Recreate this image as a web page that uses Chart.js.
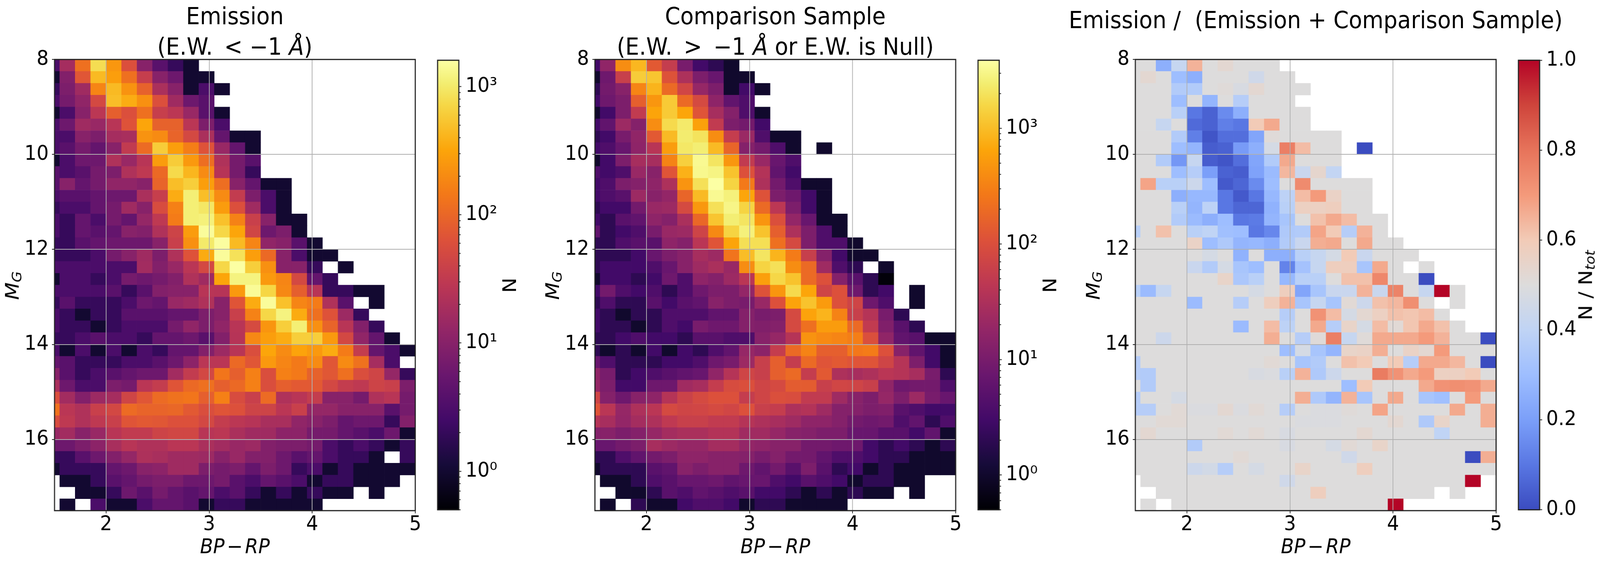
<!DOCTYPE html>
<html>
<head>
<meta charset="utf-8">
<script src="https://cdn.jsdelivr.net/npm/chart.js@4"></script>
<style>
  html, body { margin: 0; background: #fff; overflow: hidden; }
  body { font-family: "DejaVu Sans"; color: #000; }
  /* the window stops at 4096 wide, so the 4373 wide figure is fitted into it */
  #fig { position: absolute; left: 0; top: 0; width: 4373px; height: 1441px; transform-origin: 0 0; }
  canvas { position: absolute; }
  .lbl { position: absolute; white-space: nowrap; transform: translate(-50%, -50%); }
  .lbl sub { font-size: .7em; vertical-align: -.2em; line-height: 0; }
</style>
</head>
<body>
<div id="fig"></div>
<script>
const _ = null;

// bin centres of the 2d histograms
const xBins = [1.475,1.625,1.775,1.925,2.075,2.225,2.375,2.525,2.675,2.825,2.975,3.125,3.275,3.425,3.575,3.725,3.875,4.025,4.175,4.325,4.475,4.625,4.775,4.925];
const yBins = [8.125,8.375,8.625,8.875,9.125,9.375,9.625,9.875,10.125,10.375,10.625,10.875,11.125,11.375,11.625,11.875,12.125,12.375,12.625,12.875,13.125,13.375,13.625,13.875,14.125,14.375,14.625,14.875,15.125,15.375,15.625,15.875,16.125,16.375,16.625,16.875,17.125,17.375];
const xTicks = [2, 3, 4, 5];
const yTicks = [8, 10, 12, 14, 16];

// counts per cell, one row per magnitude bin
const emission = [
[3,18,120,800,250,60,10,4,2,1],
[1,9,70,450,280,120,35,10,6,1,1],
[2,8,16,180,450,230,90,20,10,1,3,1],
[3,7,12,50,480,360,220,60,16,6,4],
[1,3,10,28,85,60,120,36,28,14,4,1],
[3,6,16,14,26,65,320,90,90,27,8,3],
[3,3,10,8,18,19,230,200,95,50,20,5,1,1],
[3,4,7,5,10,32,110,600,280,160,65,14,5,1],
[1,3,6,6,22,14,26,270,600,260,115,22,7,4],
[4,3,4,7,8,22,30,105,750,420,200,25,7,2],
[4,10,5,7,12,12,10,95,480,620,280,115,10,5,1,1],
[3,4,4,5,6,6,20,36,360,1100,480,200,33,8,3,1],
[2,3,3,5,7,16,10,55,165,1100,950,270,60,16,3,1],
[3,2,5,3,7,5,13,30,150,1100,1150,500,170,38,10,1,1],
[3,2,5,4,5,10,9,22,42,270,1500,720,320,45,6,8,1],
[2,2,4,5,6,6,6,10,38,220,1000,1550,450,180,12,10,4,1],
[2,2,2,3,7,10,16,8,22,65,350,1500,850,280,105,10,3,1,1],
[3,3,3,3,3,3,17,9,14,27,50,720,1600,620,220,10,10,2,_,1],
[1,3,3,2,3,7,6,7,9,22,16,320,1200,1200,260,180,50,5,2],
[3,3,3,3,4,2,4,9,10,10,26,25,260,1450,700,190,85,26,2,2,1,1],
[2,4,2,2,2,3,6,5,14,16,22,10,68,350,1500,500,180,150,22,4,_,1],
[3,2,1,2,2,4,4,4,5,5,8,10,38,170,720,1200,350,120,65,15,2],
[3,2,2,1,2,3,3,3,7,12,8,12,26,52,240,620,1100,220,95,26,9,2],
[2,2,3,4,3,3,2,5,5,6,4,9,25,190,280,360,620,620,260,48,12,5,1],
[3,1,3,1,3,1,3,2,5,5,9,15,26,58,320,200,310,260,350,150,34,5,3,1],
[5,4,2,2,2,3,3,4,6,11,27,27,105,70,260,180,145,200,70,200,125,18,3],
[10,4,2,3,4,5,6,6,17,33,48,135,85,165,58,165,145,90,72,120,58,44,13,2],
[20,6,3,3,8,7,27,34,68,105,120,85,105,165,58,85,75,75,48,34,30,42,38,8],
[58,17,9,15,18,44,70,110,125,135,85,165,55,38,110,22,26,34,10,10,7,22,26,7],
[125,27,22,38,48,110,95,95,100,75,58,68,62,42,42,27,38,13,13,10,10,10,4,7],
[55,30,22,30,38,68,75,72,62,62,48,34,28,25,19,19,12,10,8,5,6,6,2,9],
[14,17,10,14,26,32,32,42,46,46,26,28,20,16,16,11,11,7,7,5,4,3,6,1],
[6,6,8,11,19,26,22,22,27,27,20,17,14,15,9,8,8,7,3,2,3,2,1,2],
[2,2,4,6,9,13,21,19,16,16,15,10,14,9,9,6,4,5,3,2,2,1,_,2],
[1,2,2,2,5,6,10,11,16,16,8,7,8,5,8,6,2,3,1,2,1,1,1,1],
[_,1,1,2,4,5,7,8,8,6,6,7,4,3,5,4,3,1,2,2,1,1,1],
[_,_,1,1,2,6,4,7,5,4,5,3,4,2,1,2,1,2,1,1,_,1],
[_,1,_,3,1,1,3,5,5,4,1,2,2,1,1,1,1,1]
];

const comparison = [
[3,17,400,900,130,55,10,3,2,1],
[1,8,60,1300,1150,110,32,11,7,1,1],
[2,9,14,340,850,190,75,19,11,1,3,1],
[3,8,11,150,480,1250,190,85,16,6,4],
[1,3,11,50,640,1250,650,115,27,13,4,1],
[3,6,22,13,400,1700,2300,600,50,11,9,3],
[2,3,10,17,130,950,2400,2000,400,55,21,4,1,1],
[3,4,7,16,40,550,2200,2500,950,170,13,9,4,1,_,1],
[1,3,11,27,27,330,1400,3300,2100,480,50,20,7,4],
[4,3,4,20,14,115,800,3200,2900,1100,105,36,6,3],
[3,4,11,13,16,32,460,1900,3900,1500,270,32,9,4,1,1],
[3,4,5,22,14,18,170,950,3300,2700,650,110,11,8,3,1],
[2,3,3,9,20,22,85,500,1900,3000,1500,190,44,11,3,1],
[3,2,5,6,16,13,30,180,1150,2500,2100,470,100,18,7,1,1],
[6,2,3,4,10,20,22,70,370,1500,2700,1100,150,32,11,4,1],
[2,2,4,5,5,16,13,42,115,630,1850,1850,220,85,11,4,4,1],
[2,2,2,3,7,11,14,27,22,240,1000,2100,850,280,58,13,3,1,1],
[2,3,3,3,4,7,14,23,30,20,400,1500,1900,400,190,23,4,2,_,1],
[1,3,3,2,3,8,4,16,13,22,42,580,1600,1100,190,105,13,5,2,.55],
[3,9,4,3,4,2,4,8,11,11,18,110,480,1700,650,72,105,8,2,3,_,1],
[2,4,2,2,5,3,5,6,14,11,10,20,105,620,1100,530,105,72,8,4,_,1],
[3,2,1,2,2,4,4,4,6,6,13,10,11,85,620,850,330,60,38,10,2],
[3,2,2,1,2,4,3,10,8,8,13,12,13,85,220,540,540,190,50,12,5,2],
[2,2,3,4,3,3,2,5,5,4,4,14,19,38,450,380,340,300,100,17,6,5,1,1],
[2,1,2,1,3,1,3,2,4,6,19,15,55,190,330,150,150,260,280,105,14,6,3,1],
[7,4,2,2,2,3,3,4,8,10,22,60,150,55,190,115,130,115,115,72,38,11,3,1],
[17,10,2,3,4,5,6,7,17,38,72,60,150,190,55,130,32,28,32,42,38,28,10,2],
[19,11,3,3,8,8,24,28,55,90,100,72,85,140,140,60,75,72,60,17,8,9,9,4],
[72,13,8,14,16,38,65,85,105,105,55,72,100,95,50,50,23,14,11,19,11,22,10,7],
[115,42,19,32,42,85,72,75,85,75,105,60,55,32,36,23,13,13,11,12,5,4,3,3],
[38,28,18,26,32,48,60,60,50,50,38,32,28,23,16,16,13,9,8,9,4,6,2,4],
[13,14,11,13,19,26,30,30,36,36,24,24,19,14,13,11,11,7,7,5,5,3,6,1],
[7,7,9,11,28,22,19,19,26,26,18,16,14,14,9,9,8,8,3,2,3,2,1,2],
[2,2,4,6,9,11,16,16,14,14,13,10,13,9,9,6,4,4,3,2,2,1,1,1],
[1,2,2,2,5,6,14,11,14,14,8,6,9,5,11,5,2,3,1,2,1,1,1,1],
[_,1,1,2,4,5,7,7,8,6,7,7,4,3,5,4,3,1,2,2,1,1],
[_,_,1,1,2,5,4,6,5,4,5,3,3,2,1,2,1,2,1,1,_,1],
[_,1,_,2,1,1,3,4,4,3,1,2,2,1,1,1,1]
];

// emission / (emission + comparison) per cell
const fraction = [
[.5,.5,.25,.42,.65,.5,.53,.5,.5,.5],
[.5,.53,.5,.3,.25,.5,.5,.5,.45,.5,.5],
[.5,.5,.5,.36,.36,.5,.51,.48,.53,.5,.5,.5],
[.5,.5,.5,.3,.5,.27,.5,.37,.5,.5,.5],
[.5,.5,.5,.38,.1,.05,.15,.25,.5,.5,.5,.5],
[.5,.5,.42,.5,.07,.05,.12,.1,.6,.67,.5,.5],
[.5,.5,.5,.36,.12,.02,.08,.08,.22,.51,.5,.5,.5,.5],
[.5,.5,.5,.3,.27,.04,.05,.19,.25,.47,.77,.63,.5,.5,_,0],
[.5,.5,.36,.18,.42,.04,.02,.08,.22,.36,.67,.5,.5,.5],
[.5,.5,.5,.3,.37,.2,.05,.04,.21,.29,.64,.43,.54,.41],
[.5,.68,.38,.38,.44,.3,.03,.06,.15,.3,.5,.74,.5,.5,.5,.5],
[.5,.5,.5,.25,.28,.28,.1,.03,.1,.28,.39,.63,.7,.56,.5,.5],
[.5,.5,.5,.38,.27,.39,.1,.06,.06,.26,.38,.57,.57,.58,.5,.5],
[.5,.5,.5,.36,.29,.25,.3,.1,.11,.27,.33,.5,.62,.67,.63,.5,.5],
[.38,.5,.62,.5,.38,.4,.31,.3,.1,.14,.35,.36,.68,.6,.37,.65,.5],
[.5,.5,.5,.5,.56,.3,.35,.27,.28,.25,.36,.43,.66,.67,.5,.67,.5,.5],
[.5,.5,.5,.5,.5,.47,.5,.26,.5,.25,.25,.38,.42,.47,.6,.43,.5,.5,.5],
[.5,.5,.5,.5,.43,.36,.47,.33,.3,.5,.13,.32,.42,.58,.58,.33,.67,.5,_,.5],
[.5,.5,.5,.5,.5,.5,.55,.34,.38,.5,.28,.38,.38,.5,.62,.62,.75,.5,.5,0],
[.38,.29,.42,.5,.5,.5,.5,.5,.47,.5,.58,.22,.33,.43,.43,.65,.43,.76,.5,.42,1,.5],
[.5,.5,.5,.5,.29,.5,.5,.37,.5,.58,.65,.33,.42,.33,.52,.44,.62,.64,.73,.5,_,.5],
[.5,.5,.5,.5,.5,.5,.5,.5,.5,.5,.37,.5,.72,.63,.47,.53,.57,.62,.61,.63,.5],
[.5,.5,.5,.5,.5,.5,.5,.29,.5,.63,.39,.5,.67,.37,.55,.47,.63,.52,.61,.67,.62,.5],
[.5,.5,.44,.5,.5,.5,.5,.5,.5,.66,.5,.37,.51,.77,.42,.51,.67,.67,.67,.7,.65,.5,.5,0],
[.5,.5,.5,.5,.5,.5,.5,.5,.5,.5,.3,.47,.33,.27,.55,.56,.66,.5,.56,.53,.7,.5,.5,.5],
[.37,.5,.5,.5,.5,.5,.5,.5,.5,.52,.5,.33,.36,.5,.62,.6,.5,.6,.37,.67,.67,.64,.5,0],
[.37,.36,.5,.5,.5,.5,.5,.5,.48,.49,.38,.65,.35,.44,.5,.5,.78,.72,.67,.7,.57,.57,.6,.5],
[.5,.36,.5,.5,.5,.5,.5,.5,.5,.5,.5,.5,.5,.5,.3,.6,.5,.5,.5,.67,.72,.73,.72,.67],
[.37,.5,.5,.47,.5,.5,.5,.5,.5,.5,.5,.66,.35,.27,.65,.33,.5,.67,.5,.33,.31,.5,.7,.5],
[.37,.37,.5,.52,.49,.49,.53,.49,.52,.5,.37,.5,.49,.49,.51,.5,.68,.5,.5,.5,.5,.67,.5,.66],
[.5,.5,.52,.52,.5,.5,.5,.5,.5,.5,.5,.49,.49,.49,.5,.5,.5,.53,.5,.35,.55,.5,.5,.66],
[.5,.53,.5,.5,.5,.5,.52,.5,.52,.5,.48,.5,.5,.5,.5,.53,.5,.5,.5,.5,.4,.5,.5,.5],
[.5,.5,.5,.5,.36,.5,.5,.5,.5,.5,.48,.5,.5,.47,.52,.5,.55,.5,.5,.5,.5,.5,.5,.5],
[.5,.5,.5,.5,.5,.5,.5,.52,.5,.5,.5,.5,.5,.5,.45,.5,.5,.5,.5,.5,.5,.5,0,.66],
[.5,.5,.5,.5,.44,.46,.37,.5,.47,.5,.5,.55,.5,.5,.5,.58,.5,.5,.5,.5,.5,.5,.5,.5],
[_,.5,.5,.5,.5,.5,.5,.5,.5,.5,.45,.5,.5,.5,.5,.5,.5,.5,.5,.5,.5,.5,1],
[_,_,.5,.5,.5,.5,.5,.5,.5,.5,.5,.5,.58,.5,.5,.5,.5,.5,.5,.5,_,.5],
[_,.5,_,.5,.5,.5,.5,.5,.5,.5,.5,.5,.5,.5,.5,.5,.5,1]
];

// colorbar ticks
const logTicks = [1, 10, 100, 1000];
const logLabels = ['10⁰', '10¹', '10²', '10³'];
const minorLow = [.5,.6,.7,.8,.9,2,3,4,5,6,7,8,9,20,30,40,50,60,70,80,90,200,300,400,500,600,700,800,900];
const minorHigh = minorLow.concat([2000, 3000]);
const ratioTicks = [0, .2, .4, .6, .8, 1];
const ratioLabels = ['0.0', '0.2', '0.4', '0.6', '0.8', '1.0'];

const infernoStops = [[0,'#000004'],[.1,'#160b39'],[.2,'#420a68'],[.3,'#6a176e'],[.4,'#932667'],[.5,'#bc3754'],[.6,'#dd513a'],[.7,'#f37819'],[.8,'#fca50a'],[.9,'#f6d746'],[.95,'#f3ee72'],[1,'#fcffa4']];
const coolwarmStops = [[0,'#3b4cc0'],[.1,'#5977e3'],[.2,'#7b9ff9'],[.3,'#9ebeff'],[.4,'#c0d4f5'],[.5,'#dddcdc'],[.6,'#f2cbb7'],[.7,'#f49a7b'],[.8,'#e7745b'],[.9,'#cf453c'],[1,'#b40426']];

function hexRgb(h) { return [1, 3, 5].map(i => parseInt(h.substr(i, 2), 16)); }

function colorAt(stops, t) {
  t = Math.max(0, Math.min(1, t));
  let i = 1;
  while (i < stops.length - 1 && stops[i][0] < t) i++;
  const f = (t - stops[i - 1][0]) / (stops[i][0] - stops[i - 1][0]);
  const a = hexRgb(stops[i - 1][1]), b = hexRgb(stops[i][1]);
  return 'rgb(' + a.map((v, k) => Math.round(v + (b[k] - v) * f)).join(',') + ')';
}

const fig = document.getElementById('fig');
fig.style.transform = 'scale(' + (window.innerWidth / 4373) + ',1)';

const plotW = 986, plotH = 1155, plotTop = 152;
const FONT = 'DejaVu Sans';

function addCanvas(left, top, w, h) {
  const c = document.createElement('canvas');
  c.width = w; c.height = h;
  c.style.left = left + 'px'; c.style.top = top + 'px';
  c.style.width = w + 'px'; c.style.height = h + 'px';
  fig.appendChild(c);
  return c;
}

function addText(html, cx, cy, size, rotate) {
  const d = document.createElement('div');
  d.className = 'lbl';
  d.innerHTML = html;
  d.style.left = cx + 'px'; d.style.top = cy + 'px';
  d.style.fontSize = size + 'px';
  if (rotate) d.style.transform = 'translate(-50%, -50%) rotate(-90deg)';
  fig.appendChild(d);
}

// black frame round the axes
const framePlugin = {
  id: 'frame',
  afterDraw(chart) {
    const a = chart.chartArea, ctx = chart.ctx;
    ctx.save();
    ctx.strokeStyle = '#222';
    ctx.lineWidth = 3;
    ctx.strokeRect(a.left, a.top, a.right - a.left, a.bottom - a.top);
    ctx.restore();
  }
};

// short minor ticks on the colorbar
const minorTickPlugin = {
  id: 'minorTicks',
  afterDraw(chart, args, opts) {
    const s = chart.scales.y, ctx = chart.ctx, x = chart.chartArea.right;
    ctx.save();
    ctx.strokeStyle = '#222';
    ctx.lineWidth = 2;
    (opts.values || []).forEach(v => {
      if (v < s.min || v > s.max) return;
      const y = s.getPixelForValue(v);
      ctx.beginPath(); ctx.moveTo(x, y); ctx.lineTo(x + 5, y); ctx.stroke();
    });
    ctx.restore();
  }
};

function heatmap(left, rows, colorOf) {
  const cells = [], colors = [];
  rows.forEach((row, r) => row.forEach((v, c) => {
    if (v === null) return;
    cells.push({ x: xBins[c], y: [yBins[r] - .125, yBins[r] + .125] });
    colors.push(colorOf(v));
  }));
  const cv = addCanvas(left - 120, plotTop - 40, plotW + 160, plotH + 130);
  new Chart(cv, {
    type: 'bar',
    data: { datasets: [{ data: cells, backgroundColor: colors, borderWidth: 0, barPercentage: 1, categoryPercentage: 1 }] },
    plugins: [framePlugin],
    options: {
      responsive: false, animation: false, devicePixelRatio: 1,
      layout: { padding: { top: 40, right: 40 } },
      plugins: { legend: { display: false }, tooltip: { enabled: false } },
      scales: {
        x: {
          type: 'linear', min: 1.5, max: 5, offset: false,
          afterBuildTicks: s => { s.ticks = xTicks.map(v => ({ value: v })); },
          afterFit: s => { s.height = 90; },
          grid: { offset: false, color: '#b0b0b0', lineWidth: 2, z: 1, tickLength: 7, tickColor: '#222', tickWidth: 2 },
          border: { display: false },
          ticks: { color: '#000', font: { family: FONT, size: 52, lineHeight: 1 }, padding: 3, maxRotation: 0, autoSkip: false }
        },
        y: {
          type: 'linear', reverse: true, min: 8, max: 17.5,
          afterBuildTicks: s => { s.ticks = yTicks.map(v => ({ value: v })); },
          afterFit: s => { s.width = 120; },
          grid: { color: '#b0b0b0', lineWidth: 2, z: 1, tickLength: 7, tickColor: '#222', tickWidth: 2 },
          border: { display: false },
          ticks: { color: '#000', font: { family: FONT, size: 52 }, padding: 9, autoSkip: false }
        }
      }
    }
  });
}

function colorbar(left, stops, scaleY, minor) {
  const cv = addCanvas(left - 5, plotTop - 40, 220, plotH + 80);
  new Chart(cv, {
    type: 'bar',
    data: {
      labels: ['cb'],
      datasets: [{
        data: [[scaleY.min, scaleY.max]],
        borderWidth: 0, barPercentage: 1, categoryPercentage: 1,
        backgroundColor: ctx => {
          const a = ctx.chart.chartArea;
          if (!a) return '#000';
          const g = ctx.chart.ctx.createLinearGradient(0, a.bottom, 0, a.top);
          stops.forEach(s => g.addColorStop(s[0], s[1]));
          return g;
        }
      }]
    },
    plugins: [framePlugin, minorTickPlugin],
    options: {
      responsive: false, animation: false, devicePixelRatio: 1,
      layout: { padding: { top: 40, bottom: 40, left: 5 } },
      plugins: { legend: { display: false }, tooltip: { enabled: false }, minorTicks: { values: minor } },
      scales: {
        x: { display: false },
        y: {
          type: scaleY.type, position: 'right', min: scaleY.min, max: scaleY.max,
          afterBuildTicks: s => { s.ticks = scaleY.ticks.map(v => ({ value: v })); },
          afterFit: s => { s.width = 157; },
          grid: { drawOnChartArea: false, tickLength: 7, tickColor: '#222', tickWidth: 2 },
          border: { display: false },
          ticks: {
            color: '#000', font: { family: FONT, size: 52 }, padding: 11, autoSkip: false,
            callback: (v, i) => scaleY.labels[i]
          }
        }
      }
    }
  });
}

const emissionMax = 1607, comparisonMax = 3890, countMin = .5;
function logColor(max) {
  return v => colorAt(infernoStops, (Math.log10(v) - Math.log10(countMin)) / (Math.log10(max) - Math.log10(countMin)));
}

heatmap(149, emission, logColor(emissionMax));
heatmap(1626, comparison, logColor(comparisonMax));
heatmap(3103, fraction, v => colorAt(coolwarmStops, v));

colorbar(1196, infernoStops, { type: 'logarithmic', min: countMin, max: emissionMax, ticks: logTicks, labels: logLabels }, minorLow);
colorbar(2673, infernoStops, { type: 'logarithmic', min: countMin, max: comparisonMax, ticks: logTicks, labels: logLabels }, minorHigh);
colorbar(4150, coolwarmStops, { type: 'linear', min: 0, max: 1, ticks: ratioTicks, labels: ratioLabels }, []);

// titles and axis names
const bpRp = '<i>BP</i><span style="margin:0 .12em">−</span><i>RP</i>';
const mG = '<i>M<sub>G</sub></i>';
addText('Emission', 642, 41, 60);
addText('(E.W. &thinsp;&lt; −1 <i>Å</i>)', 642, 119, 60);
addText('Comparison Sample', 2119, 41, 60);
addText('(E.W. &thinsp;&gt;&thinsp; −1 <i>Å</i> or E.W. is Null)', 2119, 119, 60);
addText('Emission /&nbsp; (Emission + Comparison Sample)', 3596, 51, 60);
[642, 2119, 3596].forEach(x => addText(bpRp, x, 1398, 52));
[33, 1510, 2987].forEach(x => addText(mG, x, 731, 52, true));
addText('N', 1392, 730, 52, true);
addText('N', 2869, 730, 52, true);
addText('N / N<sub><i>tot</i></sub>', 4333, 730, 52, true);
</script>
</body>
</html>
